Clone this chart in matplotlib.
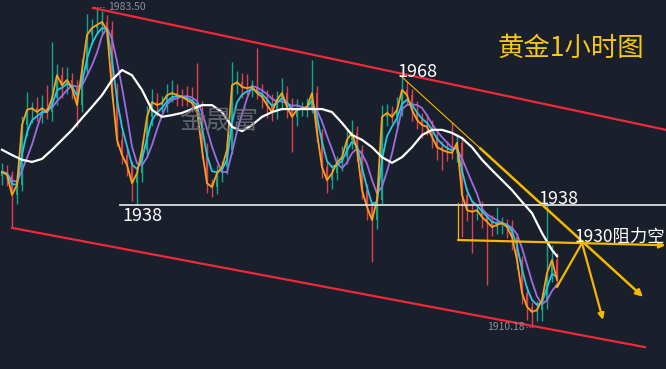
import numpy as np
import pandas as pd
import matplotlib
matplotlib.use('Agg')
import matplotlib.pyplot as plt

plt.rcParams['font.family'] = ['Noto Sans CJK SC', 'DejaVu Sans']

# 收盘价 (每根K线)
closes = [1945.7, 1945.0, 1940.4, 1942.7, 1956.5, 1960.0, 1960.4, 1959.5, 1960.4, 1959.5,
          1962.7, 1968.0, 1965.7, 1966.9, 1965.0, 1961.1, 1969.2, 1977.3, 1978.9, 1979.6,
          1980.3, 1978.4, 1964.6, 1953.1, 1949.6, 1947.3, 1943.1, 1945.4, 1950.8, 1958.4,
          1961.8, 1961.1, 1961.6, 1963.4, 1963.9, 1963.4, 1963.0, 1962.3, 1961.6, 1960.0,
          1950.8, 1943.1, 1942.2, 1945.4, 1946.8, 1950.8, 1965.7, 1966.4, 1965.3, 1965.0,
          1965.3, 1963.9, 1963.0, 1961.1, 1959.5, 1962.3, 1963.9, 1960.7, 1958.4, 1960.0,
          1960.4, 1960.7, 1963.9, 1954.7, 1946.8, 1943.8, 1945.4, 1947.8, 1949.1, 1953.1,
          1954.7, 1950.8, 1941.5, 1937.6, 1934.6, 1939.2, 1958.4, 1959.3, 1958.4, 1960.0,
          1964.6, 1963.4, 1960.0, 1957.7, 1956.5, 1956.1, 1953.8, 1951.4, 1950.8, 1950.3,
          1950.1, 1952.4, 1940.4, 1936.9, 1936.5, 1936.9, 1935.3, 1934.2, 1933.0, 1933.5,
          1933.9, 1933.0, 1930.7, 1925.4, 1917.8, 1914.6, 1913.4, 1913.9, 1916.2, 1922.4,
          1925.4, 1920.8]
first_open = 1944.8

# 上影线 / 下影线长度
wick_hi = [2.0, 1.5, 1.0, 2.5, 2.0, 4.1, 1.5, 2.5, 3.0, 5.3,
           13.0, 2.5, 2.0, 3.0, 1.5, 2.0, 2.5, 4.7, 2.0, 3.9,
           2.5, 1.5, 2.0, 1.5, 2.0, 1.5, 1.0, 1.5, 2.0, 2.5,
           3.0, 2.0, 1.5, 2.5, 3.0, 2.0, 1.5, 2.5, 3.0, 9.2,
           2.0, 1.5, 1.0, 2.0, 1.5, 2.0, 5.3, 2.5, 2.0, 3.0,
           1.5, 9.0, 2.0, 1.5, 2.5, 2.0, 3.5, 1.5, 2.0, 2.5,
           1.5, 2.0, 7.6, 1.5, 1.0, 1.5, 2.0, 1.5, 2.5, 2.0,
           3.0, 1.5, 1.0, 1.5, 1.0, 2.0, 2.7, 2.0, 1.5, 3.0,
           4.1, 2.0, 1.5, 2.0, 1.5, 2.5, 1.5, 1.0, 1.5, 2.0,
           6.9, 2.0, 1.0, 1.5, 2.0, 1.5, 2.0, 1.0, 1.5, 4.1,
           1.5, 1.0, 1.5, 1.0, 1.0, 1.5, 1.0, 2.0, 1.5, 15.7,
           3.4, 1.5]
wick_lo = [2.0, 2.5, 7.6, 2.0, 1.5, 2.5, 3.0, 2.0, 2.5, 1.5,
           2.0, 1.5, 3.0, 2.0, 2.5, 5.1, 1.5, 1.0, 2.0, 1.5,
           2.0, 2.5, 2.0, 1.5, 2.0, 2.5, 4.1, 5.1, 2.0, 1.5,
           2.0, 2.5, 1.5, 2.0, 1.5, 2.5, 2.0, 1.5, 2.0, 1.5,
           2.0, 2.3, 2.3, 1.5, 2.0, 1.5, 1.0, 2.0, 2.5, 1.5,
           2.0, 1.5, 2.5, 3.0, 2.0, 1.5, 2.0, 2.5, 8.1, 2.0,
           1.5, 2.0, 1.5, 2.0, 2.5, 3.0, 2.0, 1.5, 2.0, 1.5,
           2.0, 2.5, 2.0, 3.0, 9.7, 2.0, 1.0, 2.0, 1.5, 2.0,
           1.5, 2.0, 2.5, 2.0, 3.0, 2.0, 2.5, 3.0, 4.7, 2.0,
           1.5, 2.0, 9.7, 2.5, 9.5, 2.0, 2.5, 14.6, 2.0, 1.5,
           2.0, 2.5, 3.0, 2.0, 2.5, 3.0, 3.2, 2.0, 2.5, 2.0,
           2.0, 1.5]

# 白色慢均线 (每两根K线读一个点)
white_ma = [1950.8, 1949.6, 1948.5, 1948.0, 1948.7, 1950.8, 1953.1, 1955.4, 1958.1, 1960.7,
            1963.4, 1966.9, 1969.2, 1968.0, 1964.6, 1960.0, 1958.4, 1958.8, 1959.3, 1960.2,
            1961.1, 1961.1, 1959.5, 1956.1, 1955.1, 1956.5, 1958.4, 1959.5, 1960.2, 1960.2,
            1960.2, 1960.2, 1960.2, 1959.5, 1957.0, 1954.2, 1953.1, 1951.4, 1949.1, 1947.8,
            1949.1, 1951.4, 1954.2, 1955.4, 1955.4, 1954.7, 1953.5, 1951.4, 1948.5, 1946.1,
            1943.8, 1941.5, 1938.8, 1936.2, 1931.6, 1927.7, 1926.3]
white_idx = np.append(np.arange(0, 112, 2), 111)

bg = '#1a1f2c'
up_c = '#14a88a'
down_c = '#d9434e'
yellow = '#f5b800'
red = '#f0283a'

closes = np.array(closes)
n = len(closes)
x = np.arange(n)
opens = np.r_[first_open, closes[:-1]]
top = np.maximum(opens, closes)
bot = np.minimum(opens, closes)
highs = top + np.array(wick_hi)
lows = bot - np.array(wick_lo)
colors = [up_c if c >= o else down_c for o, c in zip(opens, closes)]

fig = plt.figure(figsize=(6.66, 3.69), dpi=100, facecolor=bg)
ax = fig.add_axes([0, 0, 1, 1])
ax.set_facecolor(bg)

# K线
ax.vlines(x, lows, highs, colors=colors, lw=1.0, zorder=2)
ax.bar(x, np.maximum(top - bot, 0.3), bottom=bot, width=0.5, color=colors, lw=0, zorder=2)

# 均线
s = pd.Series(closes)
ax.plot(x, s.rolling(5, min_periods=1).mean(), color='#9a6fe3', lw=1.3, zorder=3)
ax.plot(x, s.ewm(span=3, adjust=False).mean(), color='#1ec8e6', lw=1.3, zorder=3)
ax.plot(x, s, color='#f7a21b', lw=1.3, zorder=3)
ax.plot(white_idx, white_ma, color='white', lw=1.6, zorder=3)

# 通道线
ax.plot([18.2, 132.8], [1983.5, 1955.4], color=red, lw=1.6, zorder=4)
ax.plot([2.0, 128.6], [1932.8, 1905.3], color=red, lw=1.6, zorder=4)

# 1938 水平线
ax.plot([23.6, 132.8], [1938, 1938], color='#dcdcdc', lw=1.3, zorder=4)

# 黄色趋势线和箭头
ax.plot([79.6, 95.6], [1968.0, 1951.2], color=yellow, lw=0.8, zorder=5)
ax.annotate('', xy=(128.2, 1916.9), xytext=(95.6, 1951.2),
            arrowprops=dict(arrowstyle='-|>', color=yellow, lw=1.8, mutation_scale=10, shrinkA=0, shrinkB=0), zorder=5)
ax.plot([91.2, 91.2], [1938.5, 1930.0], color=yellow, lw=0.9, zorder=5)
ax.annotate('', xy=(132.7, 1928.8), xytext=(91.2, 1930.0),
            arrowprops=dict(arrowstyle='-|>', color=yellow, lw=1.6, mutation_scale=9, shrinkA=0, shrinkB=0), zorder=5)
ax.plot([111.0, 116.0], [1919.2, 1929.3], color=yellow, lw=1.6, zorder=5)
ax.annotate('', xy=(120.2, 1911.6), xytext=(116.0, 1929.3),
            arrowprops=dict(arrowstyle='-|>', color=yellow, lw=1.6, mutation_scale=9, shrinkA=0, shrinkB=0), zorder=5)

# 文字
ax.text(79.0, 1967.6, '1968', color='white', fontsize=13, ha='left', va='baseline', zorder=6)
ax.text(24.0, 1937.6, '1938', color='white', fontsize=13, ha='left', va='top', zorder=6)
ax.text(107.2, 1938.3, '1938', color='white', fontsize=13, ha='left', va='baseline', zorder=6)
ax.text(114.6, 1929.5, '1930阻力空', color='white', fontsize=12.5, ha='left', va='baseline', zorder=6)
ax.plot([18.4, 20.6], [1983.7, 1983.7], color='#8a9099', lw=0.8, ls=':', zorder=6)
ax.text(21.2, 1983.7, '1983.50', color='#8a9099', fontsize=7.5, ha='left', va='center', zorder=6)
ax.text(97.0, 1910.0, '1910.18', color='#8a9099', fontsize=7.5, ha='left', va='center', zorder=6)
ax.plot([104.8, 106.2], [1910.0, 1910.0], color='#8a9099', lw=0.8, ls=':', zorder=6)

ax.text(0.857, 0.870, '黄金1小时图', transform=ax.transAxes, color='#f5c518',
        fontsize=19, ha='center', va='center', zorder=6)
ax.text(0.329, 0.672, '金晟富', transform=ax.transAxes, color='#70737a', alpha=0.8,
        fontsize=19, ha='center', va='center', zorder=6)

ax.set_xlim(-0.4, 132.8)
ax.set_ylim(1900.26, 1985.34)
ax.axis('off')

plt.savefig('out.png', dpi=100, facecolor=bg)
